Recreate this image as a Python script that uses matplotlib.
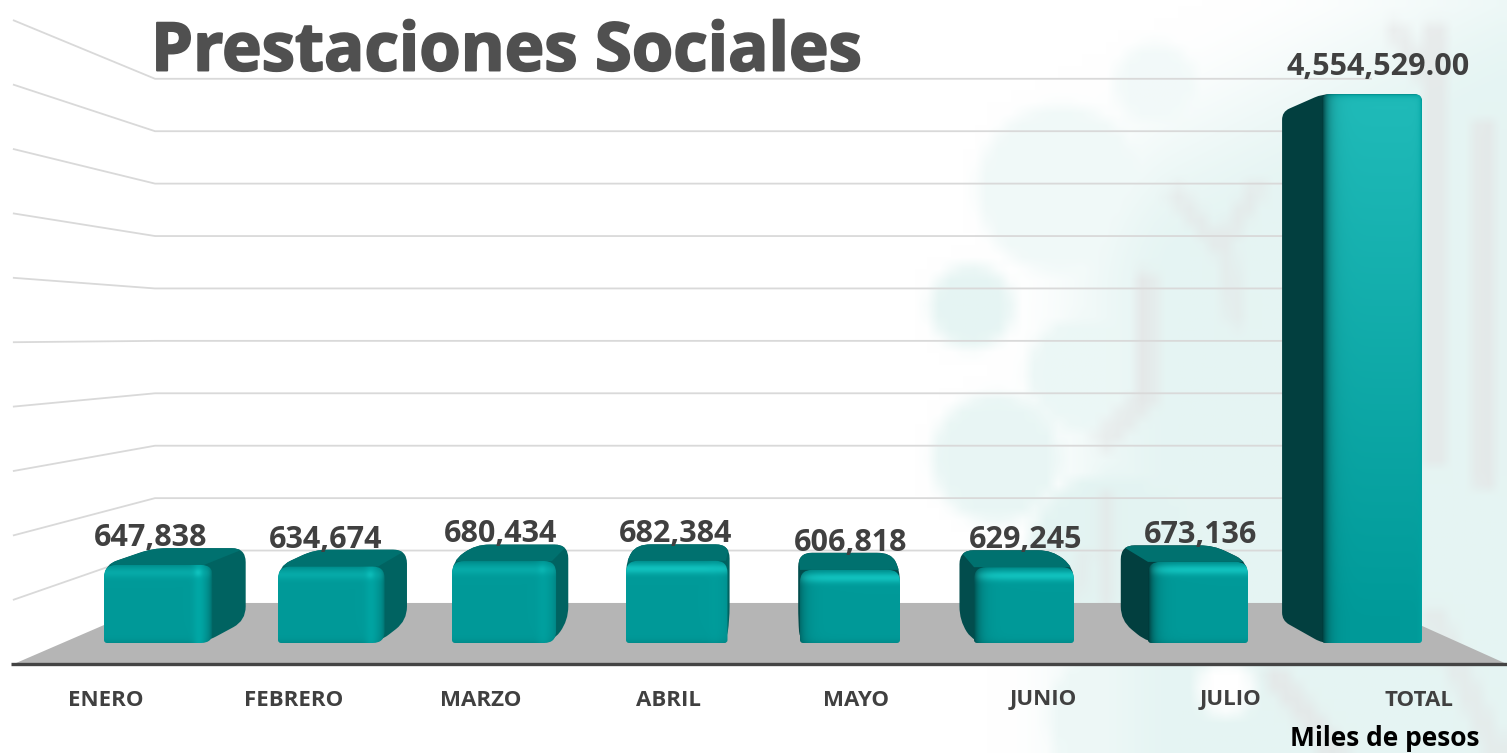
import numpy as np
import matplotlib
matplotlib.use("Agg")
import matplotlib.pyplot as plt
from matplotlib.path import Path
from matplotlib.patches import PathPatch
from matplotlib.colors import to_rgb
import matplotlib.patheffects as pe

# ---- data ----
categories = ["ENERO", "FEBRERO", "MARZO", "ABRIL", "MAYO", "JUNIO", "JULIO", "TOTAL"]
values = [647838, 634674, 680434, 682384, 606818, 629245, 673136, 4554529]
value_labels = ["647,838", "634,674", "680,434", "682,384", "606,818", "629,245", "673,136", "4,554,529.00"]
grid_ticks = [500000, 1000000, 1500000, 2000000, 2500000, 3000000, 3500000, 4000000, 4500000, 5000000]
title = "Prestaciones Sociales"
unit_note = "Miles de pesos"

W, H = 1507, 753
plt.rcParams['font.family'] = ['Open Sans', 'DejaVu Sans']
fig = plt.figure(figsize=(W / 100, H / 100), dpi=100)

# ---- background watermark (pale, blurred) ----
bg = fig.add_axes([0, 0, 1, 1], zorder=0)
bs = 12
gy, gx = np.mgrid[0:H // bs + 1, 0:W // bs + 1]
gx = gx * bs + bs / 2
gy = gy * bs + bs / 2
def sstep(a, b, v):
    t = np.clip((v - a) / (b - a), 0, 1)
    return t * t * (3 - 2 * t)
teal = 0.8 * sstep(1000, 1180, gx) * sstep(60, 300, gy + (gx - 1100) * 0.5)
for cx, cy, r, s in [(975, 308, 42, .8), (1065, 190, 85, .45), (1160, 85, 42, .4), (1000, 460, 65, .7),
                     (1090, 375, 60, .6), (1120, 560, 90, .85), (1130, 720, 80, .55), (1420, 720, 90, .75),
                     (1300, 680, 60, .3), (1480, 60, 50, .3)]:
    teal = np.maximum(teal, s * (1 - sstep(r - 10, r + 10, np.hypot(gx - cx, gy - cy))))
for cx, cy, r in [(1230, 690, 28)]:
    teal = teal * sstep(r - 10, r + 10, np.hypot(gx - cx, gy - cy))
grey = np.zeros_like(teal)
def stroke(x0, y0, x1, y1, w, s):
    global grey
    dx, dy = x1 - x0, y1 - y0
    t = np.clip(((gx - x0) * dx + (gy - y0) * dy) / (dx * dx + dy * dy), 0, 1)
    d = np.hypot(gx - x0 - t * dx, gy - y0 - t * dy)
    grey = np.maximum(grey, s * (1 - sstep(w - 6, w + 6, d)))
for seg in [(1150, 280, 1150, 400, 9, .7), (1150, 400, 1110, 440, 12, .5), (1180, 195, 1225, 250, 9, .5),
            (1260, 190, 1225, 250, 9, .5), (1230, 250, 1240, 320, 10, .4), (1110, 500, 1110, 600, 9, .5),
            (1440, 30, 1440, 460, 10, .6), (1490, 130, 1490, 480, 12, .6), (1400, 30, 1440, 90, 10, .5),
            (1280, 680, 1340, 753, 12, .6), (1440, 620, 1500, 753, 12, .45), (1090, 560, 1060, 640, 9, .35)]:
    stroke(*seg)
c_teal, c_grey = np.array(to_rgb("#dff2f0")), np.array(to_rgb("#e3e2e3"))
bgim = np.ones(teal.shape + (3,))
bgim = bgim * (1 - teal[..., None]) + c_teal * teal[..., None]
bgim = bgim * (1 - grey[..., None]) + c_grey * grey[..., None]
bg.imshow(bgim, extent=(0, W, H, 0), aspect='auto', interpolation='bilinear')
bg.set_xlim(0, W); bg.set_ylim(H, 0); bg.axis('off')

# ---- main axes: x in category units, y in value units ----
x0_px, dx_px = 154.0, 174.0      # pixel of first category, pixels per category
y0_px, dy_px = 643.0, 120.5e-6   # pixel of value 0, pixels per value unit
ax = fig.add_axes([0, 0, 1, 1], zorder=1)
ax.patch.set_alpha(0)
xlim = (-x0_px / dx_px, (W - x0_px) / dx_px)
ylim = ((y0_px - H) / dy_px, y0_px / dy_px)
ax.axis('off')
px_x = lambda x: (x - x0_px) / dx_px
px_y = lambda y: (y0_px - y) / dy_px
dpx = lambda n: n / dy_px

# 3D projection: pull a point toward the vanishing point by fraction t
vx, vy = px_x(775), px_y(335)
def project(x, y, t):
    return x + (vx - x) * t, y + (vy - y) * t

T_WALL, T_FRONT, T_BAR = 0.13, -0.0682, 0.073
WALL_L, WALL_R = px_x(62.4), px_x(1460)

def rounded(points, radii):
    """Closed path through data points, with corners cut by radii given in pixels."""
    pts = np.array(points, float)
    n = len(pts)
    sc = np.array([dx_px, dy_px])
    verts, codes = [], []
    for i in range(n):
        p, a, b = pts[i], pts[i - 1], pts[(i + 1) % n]
        r = radii[i] if np.ndim(radii) else radii
        la, lb = np.linalg.norm((a - p) * sc), np.linalg.norm((b - p) * sc)
        ra, rb = min(r, la / 2), min(r, lb / 2)
        s = p + (a - p) * (ra / la if la else 0)
        e = p + (b - p) * (rb / lb if lb else 0)
        verts += [s, p, e]
        codes += [Path.MOVETO if i == 0 else Path.LINETO, Path.CURVE3, Path.CURVE3]
    verts.append(verts[0]); codes.append(Path.CLOSEPOLY)
    return Path(np.array(verts), codes)

def hull(points):
    sc = np.array([dx_px, -dy_px])
    P = sorted(map(tuple, np.array(points) * sc))
    def half(seq):
        out = []
        for p in seq:
            while len(out) > 1:
                u, w_ = np.subtract(out[-1], out[-2]), np.subtract(p, out[-2])
                if u[0] * w_[1] - u[1] * w_[0] <= 0:
                    out.pop()
                else:
                    break
            out.append(p)
        return out[:-1]
    h = half(P) + half(P[::-1])
    return [tuple(np.array(q) / sc) for q in h]

# floor and walls
fl = [project(WALL_L, 0, T_FRONT), project(WALL_R, 0, T_FRONT), project(WALL_R, 0, T_WALL), project(WALL_L, 0, T_WALL)]
ax.add_patch(plt.Polygon(fl, closed=True, fc="#b5b5b5", ec="none", zorder=1))
for g in grid_ticks:
    a = project(WALL_L, g, T_FRONT); b = project(WALL_L, g, T_WALL); c = project(WALL_R, g, T_WALL)
    ax.plot([a[0], b[0], c[0]], [a[1], b[1], c[1]], color="#d9d9d9", lw=1.3, zorder=1.5, solid_joinstyle='miter')
ax.plot([px_x(11), px_x(W)], [fl[0][1], fl[1][1]], color="#444444", lw=2.4, zorder=2, solid_capstyle='butt')

BAR_W = 100 / dx_px
BASE = np.array(to_rgb("#009a99"))

def front_image(w, h, off, tall):
    yy, xx = np.mgrid[0:h, 0:w].astype(float)
    img = np.ones((h, w, 3)) * BASE
    def mix(colour, amount):
        nonlocal img
        img = img * (1 - amount[..., None]) + np.array(to_rgb(colour)) * amount[..., None]
    if tall:
        mix("#20bbb9", np.clip(1 - yy / (h * 0.95), 0, 1))
        mix("#00a3a1", np.exp(-(w - 1 - xx) / 2.0))
        mix("#00a09e", np.exp(-yy / 2.5))
    else:
        s = 0.85 if off > -0.2 else 0.35
        mix("#14c9c5", s * np.exp(-((yy - 8) / 5.0) ** 2))
        mix("#007f7e", 0.5 * np.exp(-(h - 1 - yy) / 3.0))
        mix("#00807e", 0.6 * np.exp(-yy / 2.5))
    if off > 0:      # side on the left: shadow on the left edge
        mix("#013c3c", min(1, 0.35 + off) * np.exp(-xx / 6.0))
    else:            # side on the right: light band, then fade into the side
        amt = min(1, -off)
        mix("#00aaa8", amt * 0.9 * np.exp(-((xx - (w - 14)) / 6.0) ** 2))
        if not tall:
            mix("#14c9c5", amt * 0.8 * np.exp(-((xx - (w - 15)) / 4.0) ** 2 - ((yy - 8) / 4.0) ** 2))
        mix("#006563", amt * np.exp(-(w - 1 - xx) / 3.5))
    return img

for i, (v, lab) in enumerate(zip(values, value_labels)):
    xl, xr = i - BAR_W / 2, i + BAR_W / 2
    fTL, fTR, fBR, fBL = (xl, v), (xr, v), (xr, 0), (xl, 0)
    bTL, bTR, bBR, bBL = [project(*p, T_BAR) for p in (fTL, fTR, fBR, fBL)]
    left_side = i > vx
    side = "#023f3f" if i >= 6 else ("#024d4d" if left_side else "#006361")
    tall = v > 1e6
    sil = rounded(hull([fTL, fTR, fBR, fBL, bTL, bTR, bBR, bBL]), 8 if tall else 14)
    ax.add_patch(PathPatch(sil, fc=side, ec="none", zorder=3))
    if bTL[1] > v:
        top = plt.Polygon([fTL, fTR, bTR, bTL], closed=True, fc="#00716f", ec="none", zorder=3.1)
        ax.add_patch(top)
        top.set_clip_path(PathPatch(sil, transform=ax.transData))
    # front face: bars left of the vanishing point carry a wider bevel on their right edge
    off = (i - vx) * dx_px / 600
    ext = max(0.0, min(1.0, -off)) * 9 / dx_px
    xr_f = xr + ext
    rt = 12 if not tall else 7
    fr = rounded([fBL, (xr_f, 0), (xr_f, v), fTL], [3, 12 if ext > 0.02 else 3, rt, rt])
    h = max(2, int(v * dy_px)); w = max(2, int((xr_f - xl) * dx_px))
    im = ax.imshow(front_image(w, h, off, tall), extent=(xl, xr_f, 0, v), aspect='auto',
                   interpolation='bilinear', zorder=3.2, origin='upper')
    im.set_clip_path(PathPatch(fr, transform=ax.transData))
    # value label
    lx, _ = project(i, v, -0.006 if not tall else -0.011)
    ax.text(lx, v + dpx(27), lab, ha='center', va='center', fontsize=22, fontweight='bold',
            color="#404040", zorder=5)
    # category label on the floor's front edge
    cx, _ = project(i, 0, -0.078)
    ax.text(cx, px_y(700), categories[i], ha='center', va='center', fontsize=16, fontweight='bold',
            color="#404040", zorder=5)

ax.set_xlim(*xlim); ax.set_ylim(*ylim)

ax.text(px_x(151), px_y(53), title, ha='left', va='center', fontsize=48.2, fontweight='bold', color="#505050", zorder=6,
        path_effects=[pe.withStroke(linewidth=1.4, foreground="#505050")])
ax.text(px_x(1480), px_y(739), unit_note, ha='right', va='center', fontsize=19, fontweight='bold', color="#000000", zorder=6)

fig.savefig("out.png", dpi=100)
